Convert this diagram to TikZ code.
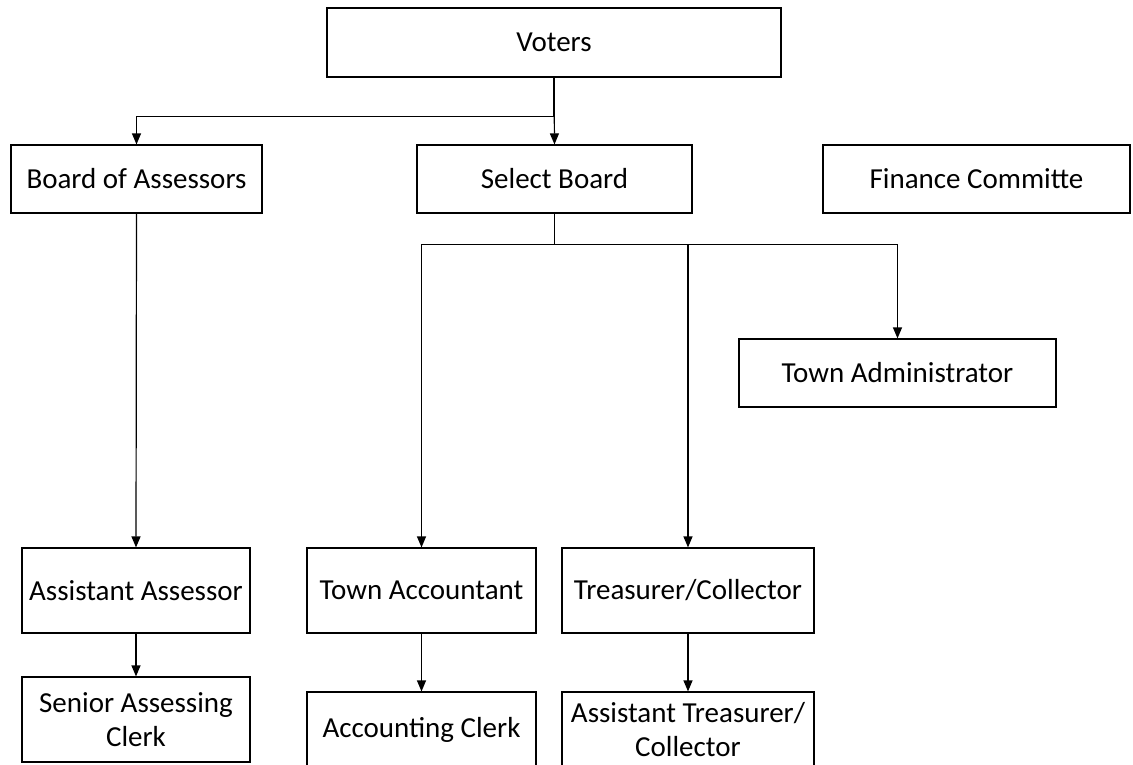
\documentclass[tikz,border=0pt]{standalone}
\usepackage{fontspec}
\setmainfont{Carlito}
\usepackage{tikz}
\usetikzlibrary{arrows.meta}
\tikzset{box/.style = {draw, line width = 1.2pt, inner sep = 0, align = center,
    font = \fontsize{29}{34}\selectfont}}
\tikzset{arr/.style = {line width = 1.2pt, -{Triangle[length = 11pt, width = 9pt]}}}

\begin{document}
\begin{tikzpicture}[x = 1pt, y = -1pt]
  \useasboundingbox (0, 0) rectangle (1133, 764);

  \node [box, minimum width = 454, minimum height = 69] (voters) at (554, 42.5) {Voters};

  \node [box, minimum width = 251, minimum height = 68] (assessors) at (136.5, 179) {Board of Assessors};
  \node [box, minimum width = 275, minimum height = 68] (select) at (554.5, 179) {Select Board};
  \node [box, minimum width = 307, minimum height = 68] (finance) at (976.5, 179) {Finance Committe};
  \node [box, minimum width = 317, minimum height = 68] (admin) at (897.5, 373) {Town Administrator};

  \node [box, minimum width = 228, minimum height = 85] (asstassessor) at (136, 590.5) {Assistant Assessor};
  \node [box, minimum width = 229, minimum height = 85] (accountant) at (421.5, 590.5) {Town Accountant};
  \node [box, minimum width = 252, minimum height = 85] (treasurer) at (688, 590.5) {Treasurer/Collector};

  \node [box, minimum width = 228, minimum height = 85] (seniorclerk) at (136, 719.5) {Senior Assessing\\Clerk};
  \node [box, minimum width = 229, minimum height = 76] (acctclerk) at (421.5, 730) {Accounting Clerk};
  \node [box, minimum width = 252, minimum height = 76] (asstreasurer) at (688, 730) {Assistant Treasurer/\\Collector};

  \draw [arr] (voters.south) -- (select.north);
  \draw [arr] (voters.south) -- ++(0, 39) -| (assessors.north);

  \draw [arr] (select.south) -- ++(0, 31) -| (accountant.north);
  \draw [arr] (select.south) -- ++(0, 31) -| (treasurer.north);
  \draw [arr] (select.south) -- ++(0, 31) -| (admin.north);

  \draw [arr] (assessors.south) -- (asstassessor.north);
  \draw [arr] (asstassessor.south) -- (seniorclerk.north);
  \draw [arr] (accountant.south) -- (acctclerk.north);
  \draw [arr] (treasurer.south) -- (asstreasurer.north);
\end{tikzpicture}
\end{document}
